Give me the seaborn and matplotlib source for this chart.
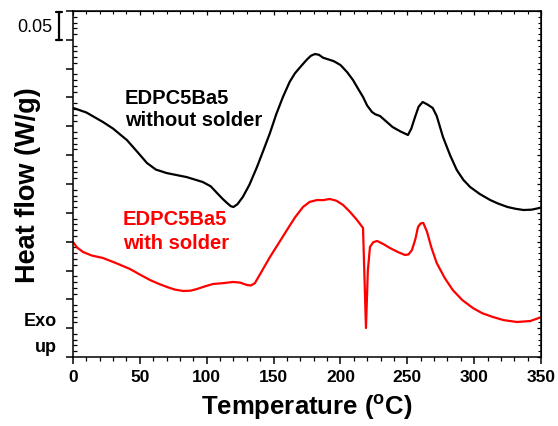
import numpy as np
import pandas as pd
import matplotlib
matplotlib.use("Agg")
import matplotlib.pyplot as plt
import seaborn as sns
from matplotlib.ticker import MultipleLocator

# ---- data (heat flow in W/g, arbitrary offset) ----
temp_without = [0, 10, 22.4, 30, 40.4, 48, 55.3, 62, 70, 85, 97, 103, 107.7, 112,
                115.2, 118, 120, 123, 127, 132, 137.6, 142, 147.3, 152, 157, 162,
                166, 170, 175, 178, 181, 184, 187, 190, 195, 200, 205, 209.4, 213,
                216.9, 220, 223.6, 226, 229.6, 234, 239, 245, 250.5, 253, 255.8,
                258.5, 261.5, 265, 269, 272, 276.7, 282, 287, 292, 297, 304, 312,
                318, 325, 331, 337, 343, 350]
hf_without = [0.432, 0.424, 0.4075, 0.396, 0.376, 0.356, 0.3364, 0.325, 0.319, 0.312,
              0.3035, 0.296, 0.2844, 0.274, 0.2671, 0.2615, 0.2601, 0.265, 0.2775,
              0.299, 0.3295, 0.356, 0.3884, 0.421, 0.4509, 0.4769, 0.492, 0.5029,
              0.516, 0.5225, 0.5254, 0.524, 0.519, 0.5168, 0.513, 0.5064, 0.494,
              0.4803, 0.466, 0.4509, 0.436, 0.4249, 0.421, 0.4179, 0.409, 0.3988,
              0.391, 0.385, 0.396, 0.4162, 0.434, 0.4422, 0.438, 0.4318, 0.418,
              0.3815, 0.350, 0.3243, 0.307, 0.2948, 0.283, 0.2722, 0.266, 0.2601,
              0.257, 0.2549, 0.2555, 0.259]

temp_with = [0, 3, 7.5, 14, 22.4, 32, 42.6, 50, 57.6, 64, 70.3, 76, 82.3, 88, 92.7,
             98, 104.7, 112, 119.7, 125, 130, 133, 136, 141, 147.3, 154, 160, 166,
             172, 177, 182.5, 187, 192, 197, 202, 207, 212.4, 216.9, 219.1, 220.5,
             222.1, 224.5, 227.4, 232, 237, 243, 248.3, 251, 253.5, 256, 258, 260,
             262, 264.8, 268, 272, 278, 284, 291, 299, 306, 314, 322, 332, 342, 350]
hf_with = [0.1994, 0.190, 0.1821, 0.176, 0.1717, 0.163, 0.1526, 0.143, 0.1335, 0.127,
           0.1214, 0.117, 0.1145, 0.115, 0.1179, 0.122, 0.1266, 0.128, 0.1301, 0.129,
           0.1249, 0.124, 0.128, 0.148, 0.1734, 0.198, 0.2202, 0.242, 0.2601, 0.269,
           0.2722, 0.272, 0.274, 0.271, 0.2636, 0.252, 0.2376, 0.2237, 0.0503, 0.150,
           0.1908, 0.199, 0.2012, 0.196, 0.189, 0.182, 0.1769, 0.178, 0.1855, 0.204,
           0.2254, 0.2317, 0.2324, 0.2168, 0.190, 0.163, 0.137, 0.1162, 0.099, 0.085,
           0.076, 0.0694, 0.064, 0.0607, 0.0624, 0.069]

x_ticks = [0, 50, 100, 150, 200, 250, 300, 350]

sns.set_style("ticks")
plt.rcParams["font.family"] = ["Liberation Sans", "DejaVu Sans"]
plt.rcParams["mathtext.fontset"] = "custom"
plt.rcParams["mathtext.rm"] = "Liberation Sans:bold"
plt.rcParams["mathtext.bf"] = "Liberation Sans:bold"
plt.rcParams["text.color"] = "black"
plt.rcParams["axes.labelcolor"] = "black"
plt.rcParams["xtick.color"] = "black"
plt.rcParams["ytick.color"] = "black"
plt.rcParams["axes.edgecolor"] = "black"

fig = plt.figure(figsize=(5.58, 4.26), dpi=100)
ax = fig.add_axes([73/558, 69/426, 468/558, 346/426])

df1 = pd.DataFrame({"T": temp_without, "H": hf_without})
df2 = pd.DataFrame({"T": temp_with, "H": hf_with})
sns.lineplot(data=df1, x="T", y="H", ax=ax, color="black", lw=1.6, sort=False)
sns.lineplot(data=df2, x="T", y="H", ax=ax, color="#ff0000", lw=1.6, sort=False)

ax.set_xlim(0, 350)
ax.set_ylim(0, 0.6)
ax.set_xlabel("")
ax.set_ylabel("")
ax.set_xticks(x_ticks)
ax.set_xticklabels([str(t) for t in x_ticks], fontsize=12.5, fontweight="bold")
ax.xaxis.set_minor_locator(MultipleLocator(10))
ax.yaxis.set_major_locator(MultipleLocator(0.05))
ax.yaxis.set_minor_locator(MultipleLocator(0.01))
ax.set_yticklabels([])
for s in ax.spines.values():
    s.set_visible(True)
    s.set_linewidth(1.1)
    s.set_color("black")
ax.tick_params(axis="x", which="major", direction="out", length=5, width=1.1, pad=4,
               colors="black", labelcolor="black")
ax.tick_params(axis="x", which="minor", direction="out", length=3, width=0.9, colors="black")
ax.tick_params(axis="y", which="major", direction="out", length=5, width=1.1, colors="black")
ax.tick_params(axis="y", which="minor", direction="in", length=3, width=0.9, colors="black")

# top / right inward ticks
secx = ax.secondary_xaxis("top")
secx.set_xticks(x_ticks)
secx.set_xticklabels([])
secx.xaxis.set_minor_locator(MultipleLocator(10))
secx.tick_params(which="major", direction="in", length=3, width=0.9, colors="black")
secx.tick_params(which="minor", direction="in", length=2, width=0.8, colors="black")
secy = ax.secondary_yaxis("right")
secy.yaxis.set_major_locator(MultipleLocator(0.05))
secy.yaxis.set_minor_locator(MultipleLocator(0.01))
secy.set_yticklabels([])
secy.tick_params(which="major", direction="in", length=3, width=0.9, colors="black")
secy.tick_params(which="minor", direction="in", length=2, width=0.8, colors="black")

# curve labels
ax.text(38.9, 0.429, "EDPC5Ba5\nwithout solder", color="black", fontsize=14.5,
        fontweight="bold", va="center", ha="left", linespacing=1.25)
ax.text(37.4, 0.2176, "EDPC5Ba5\nwith solder", color="#ff0000", fontsize=14.5,
        fontweight="bold", va="center", ha="left", linespacing=1.3)

# axis labels
fig.text(28/558, 1 - 185/426, "Heat flow (W/g)", rotation=90, fontsize=19.5,
         fontweight="bold", ha="center", va="center", color="black")
fig.text(307/558, 1 - 407/426, r"Temperature ($\mathregular{^{o}}$C)", fontsize=18.5,
         fontweight="bold", ha="center", va="center", color="black")

# Exo up
fig.text(57/558, 1 - 322/426, "Exo", fontsize=13, fontweight="bold", ha="right",
         va="center", color="black")
fig.text(57/558, 1 - 347/426, "up", fontsize=13, fontweight="bold", ha="right",
         va="center", color="black")

# scale bar 0.05
xb = 59/558
yt = 1 - 12/426
yb = 1 - 40/426
fig.add_artist(plt.Line2D([xb, xb], [yb, yt], color="black", lw=1.6))
fig.add_artist(plt.Line2D([xb - 3/558, xb + 3/558], [yt, yt], color="black", lw=1.6))
fig.add_artist(plt.Line2D([xb - 3/558, xb + 3/558], [yb, yb], color="black", lw=1.6))
fig.text(52/558, 1 - 27/426, "0.05", fontsize=13, ha="right", va="center", color="black")

fig.savefig("out.png", dpi=100)
